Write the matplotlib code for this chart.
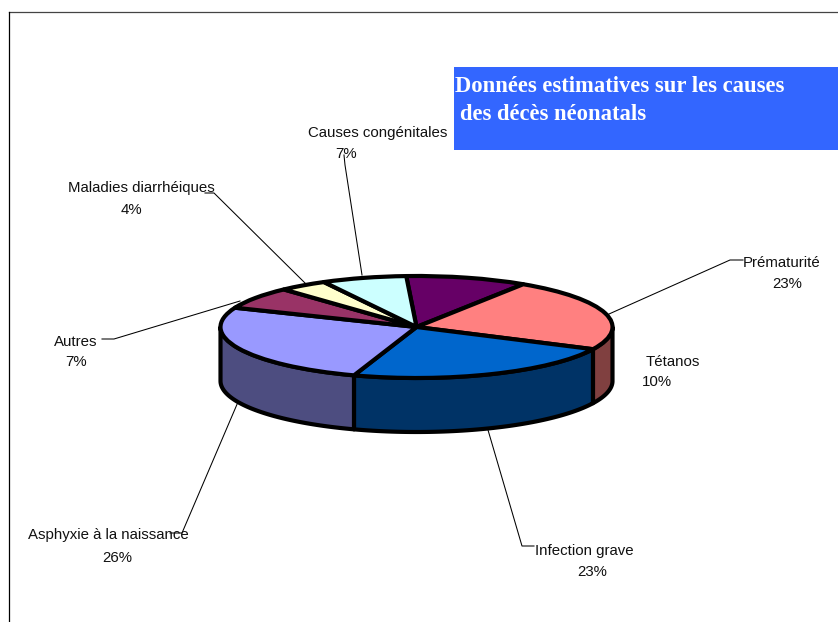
# -*- coding: utf-8 -*-
import numpy as np
import matplotlib
matplotlib.use('Agg')
import matplotlib.pyplot as plt
from matplotlib.patches import Polygon, Rectangle
from matplotlib.transforms import Affine2D

causes = ['Tétanos', 'Prématurité', 'Infection grave', 'Asphyxie à la naissance',
          'Autres', 'Maladies diarrhéiques', 'Causes congénitales']
shares = [10, 23, 23, 26, 7, 4, 7]
percent_labels = ['10%', '23%', '23%', '26%', '7%', '4%', '7%']

top_colors = ['#660066', '#FF8080', '#0066CC', '#9999FF', '#993366', '#FFFFCC', '#CCFFFF']
side_colors = ['#330033', '#804040', '#003366', '#4D4D80', '#4D1A33', '#808066', '#668080']

# layout in picture pixels
cx, cy, rx, ry, depth = 416.5, 327, 196, 51, 54
start = 93
line_w = 3.0

name_pos = [(673, 362), (782, 263), (584, 551), (108, 535), (76, 342), (141, 188), (378, 133)]
pct_pos = [(657, 382), (787, 284), (592, 572), (117, 558), (76, 362), (131, 210), (346, 154)]

leaders = [
    [(743, 260), (730, 260), (609, 314)],
    [(534, 546), (522, 546), (488, 430)],
    [(170, 533), (182, 533), (238, 402)],
    [(102, 339), (114, 339), (240, 301)],
    [(205, 193), (214, 193), (305, 283)],
    [(344, 155), (345, 165), (362, 275)],
]

plt.rcParams['font.family'] = ['Liberation Sans', 'DejaVu Sans']

fig, ax = plt.subplots(figsize=(8.38, 6.22), dpi=100)
fig.subplots_adjust(0, 0, 1, 1)

wedges, _ = ax.pie(shares, startangle=start, counterclock=False,
                   colors=top_colors,
                   wedgeprops=dict(edgecolor='black', linewidth=line_w, joinstyle='round'))
ax.set_aspect('auto')
ax.set_xlim(0, 838)
ax.set_ylim(622, 0)
ax.axis('off')

# squash the pie into an ellipse, y is flipped on this axes
squash = Affine2D().scale(rx, -ry).translate(cx, cy)
for w in wedges:
    w.set_transform(squash + ax.transData)
    w.set_zorder(5)

# side wall, only the part of each slice facing the viewer
ends = start - np.cumsum(shares) * 3.6
begins = np.r_[start, ends[:-1]]
for a0, a1, col in zip(begins, ends, side_colors):
    a_hi, a_lo = min(a0, 0), max(a1, -180)
    if a_hi <= a_lo:
        continue
    t = np.radians(np.linspace(a_hi, a_lo, 60))
    x = cx + rx * np.cos(t)
    y = cy - ry * np.sin(t)
    pts = np.r_[np.c_[x, y], np.c_[x[::-1], y[::-1] + depth]]
    ax.add_patch(Polygon(pts, closed=True, facecolor=col, edgecolor='black',
                         linewidth=line_w, joinstyle='round', zorder=3))

for pts in leaders:
    xs, ys = zip(*pts)
    ax.plot(xs, ys, color='black', lw=0.75, zorder=2)

for name, pct, p1, p2 in zip(causes, percent_labels, name_pos, pct_pos):
    ax.text(p1[0], p1[1], name, fontsize=10.8, color='#111111', ha='center', va='center', zorder=6)
    ax.text(p2[0], p2[1], pct, fontsize=10.8, color='#111111', ha='center', va='center', zorder=6)

# title box
ax.add_patch(Rectangle((454, 67), 384, 83, facecolor='#3366FF', edgecolor='none', zorder=4))
ax.text(455, 86, 'Données estimatives sur les causes', family=['Liberation Serif'],
        fontsize=16.3, fontweight='bold', color='white', ha='left', va='center', zorder=6)
ax.text(460, 115, 'des décès néonatals', family=['Liberation Serif'],
        fontsize=16.3, fontweight='bold', color='white', ha='left', va='center', zorder=6)

# chart frame, only top and left show
ax.plot([838, 9], [12, 12], color='#444444', lw=0.9, zorder=1)
ax.plot([9, 9], [12, 622], color='black', lw=0.9, zorder=1)

fig.savefig('out.png', dpi=100)
